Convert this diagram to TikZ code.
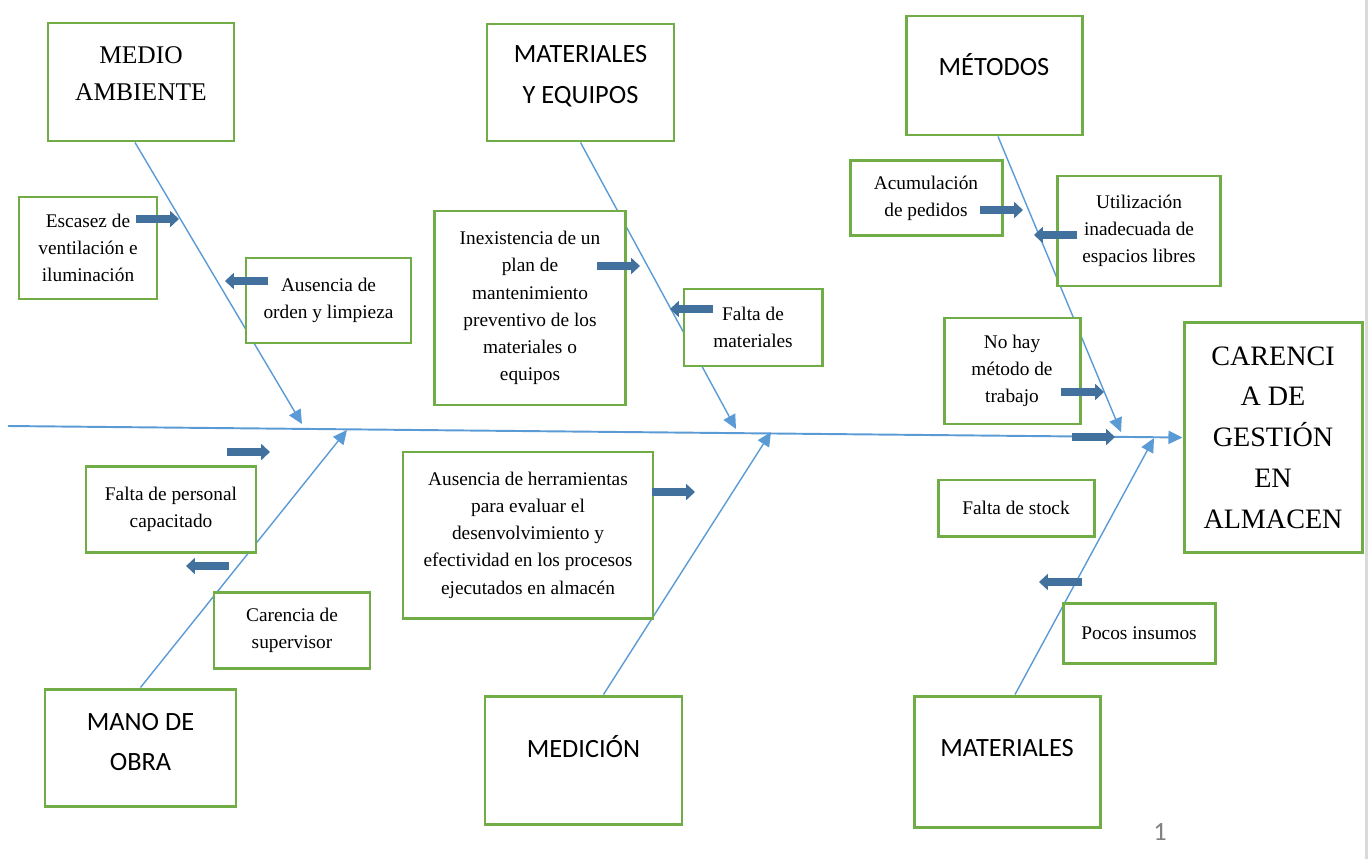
\documentclass[tikz,border=0pt]{standalone}
\usepackage{fontspec}
\setmainfont{Liberation Serif}
\newfontfamily\calibri{Carlito}
\usetikzlibrary{arrows.meta, calc, backgrounds}

\definecolor{boxgreen}{HTML}{70AD47}
\definecolor{boneblue}{HTML}{5B9BD5}
\definecolor{blkblue}{HTML}{41719C}
\definecolor{pagegray}{HTML}{D9D9D9}

\tikzset{
  box/.style 2 args={draw=boxgreen, line width=1.7pt, fill=white, minimum width=#1*0.02cm, minimum height=#2*0.02cm, inner sep=0pt},
  cause/.style={align=center, font=\fontsize{11}{15.5}\selectfont},
  headserif/.style={align=center, font=\fontsize{14.5}{21}\selectfont},
  headsans/.style={align=center, font=\calibri\fontsize{15}{23}\selectfont},
  effect/.style={align=center, font=\fontsize{16}{23.2}\selectfont},
  bone/.style={draw=boneblue, line width=0.8pt, -{Triangle[length=8pt,width=7.5pt]}},
  spine/.style={draw=boneblue, line width=1.1pt, -{Triangle[length=8pt,width=7.5pt]}},
  push/.style={draw=blkblue, line width=4.5pt, -{Triangle[length=5pt,width=9pt]}},
}

\begin{document}
\begin{tikzpicture}[x=0.02cm, y=-0.02cm]
    \useasboundingbox (0,0) rectangle (1370,859);

    % Effect
    \node[box={178}{230}, effect] (car) at (1273,437.5) {CARENCI\\A DE\\GESTIÓN\\EN\\ALMACEN};

    % Main categories
    \node[box={186}{118}] (ma)  at (141,82) {};
    \node[box={187}{117}] (meq) at (580.5,82.5) {};
    \node[box={176}{119}] (met) at (994,75.5) {};
    \node[box={191}{117}] (mo)  at (140.5,747.5) {};
    \node[box={197}{128}] (med) at (583.5,760) {};
    \node[box={186}{131}] (mat) at (1007,761.5) {};

    \node[headserif] (ma-txt)  at ([yshift=4.8pt]ma.center)  {MEDIO\\AMBIENTE};
    \node[headsans]  (meq-txt) at ([yshift=3.7pt]meq.center) {MATERIALES\\Y EQUIPOS};
    \node[headsans]  (met-txt) at ([yshift=6pt]met.center)   {MÉTODOS};
    \node[headsans]  (mo-txt)  at ([yshift=3.1pt]mo.center)  {MANO DE\\OBRA};
    \node[headsans]  (med-txt) at ([yshift=7.4pt]med.center) {MEDICIÓN};
    \node[headsans]  (mat-txt) at ([yshift=7.7pt]mat.center) {MATERIALES};

    % Causes
    \node[box={138}{102}, cause] (esc) at (88,248)       {Escasez de\\ventilación e\\iluminación};
    \node[box={165}{85},  cause] (aor) at (328.5,300.5)  {Ausencia de\\orden y limpieza};
    \node[box={191}{194}, cause] (inx) at (530,308)      {Inexistencia de un\\plan de\\mantenimiento\\preventivo de los\\materiales o\\equipos};
    \node[box={138}{77},  cause] (fma) at (753,327.5)    {Falta de\\materiales};
    \node[box={152}{75},  cause] (acu) at (926,198)      {Acumulación\\de pedidos};
    \node[box={163}{110}, cause] (uti) at (1139,231)     {Utilización\\inadecuada de\\espacios libres};
    \node[box={136}{106}, cause] (nhm) at (1012,371)     {No hay\\método de\\trabajo};
    \node[box={170}{86},  cause] (fpc) at (171,509.5)    {Falta de personal\\capacitado};
    \node[box={156}{76},  cause] (csu) at (292,630.5)    {Carencia de\\supervisor};
    \node[box={250}{166}, cause] (aeh) at (528,535)      {Ausencia de herramientas\\para evaluar el\\desenvolvimiento y\\efectividad en los procesos\\ejecutados en almacén};
    \node[box={156}{56},  cause] (fst) at (1016,508)     {Falta de stock};
    \node[box={152}{60},  cause] (pin) at (1139,633.5)   {Pocos insumos};

    % Spine and bones
    \coordinate (tail) at (8,426);
    \coordinate (ma-tip)  at (302,424);
    \coordinate (meq-tip) at (736,429);
    \coordinate (met-tip) at (1121,432);
    \coordinate (mo-tip)  at (347,430);
    \coordinate (med-tip) at (771,432);
    \coordinate (mat-tip) at (1154,438);

    \begin{scope}[on background layer]
        \draw[spine] (tail) -- (car.west);
        \draw[bone] ($(ma.south)+(-6,0)$) -- (ma-tip);
        \draw[bone] (meq.south) -- (meq-tip);
        \draw[bone] ($(met.south)+(4,0)$) -- (met-tip);
        \draw[bone] (mo.north) -- (mo-tip);
        \draw[bone] ($(med.north)+(20,0)$) -- (med-tip);
        \draw[bone] ($(mat.north)+(8,0)$) -- (mat-tip);
    \end{scope}

    % Block arrows
    \foreach \x/\y/\d in {136/219/1, 268/281/-1, 597/266/1, 713/309/-1, 980/210/1, 1077/235/-1,
                          1061/392/1, 1072/437/1, 227/452/1, 229/566/-1, 652/492/1, 1082/582/-1}
        \draw[push] (\x,\y) -- ++(\d*43,0);

    % Page
    \draw[pagegray, line width=1.7pt] (1366,0) -- (1366,859);
    \node[text=gray, font=\calibri\fontsize{15}{18}\selectfont] (pg) at (1160,832) {1};
\end{tikzpicture}
\end{document}
